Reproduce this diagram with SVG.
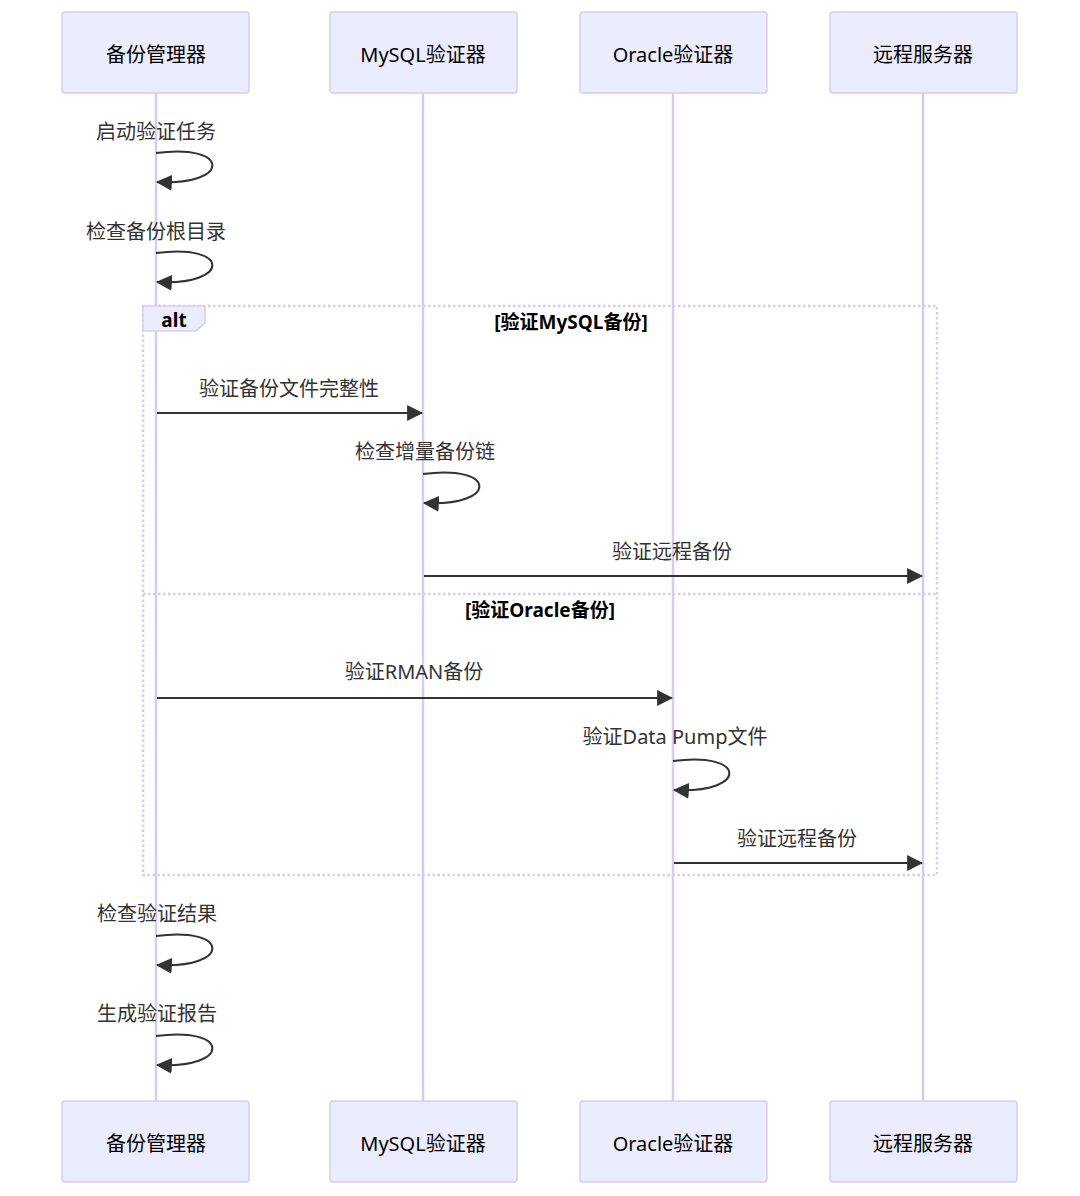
<svg xmlns="http://www.w3.org/2000/svg" width="1080" height="1196" viewBox="0 0 1080 1196">
<defs>
<style>
.actor{fill:#ECECFF;stroke:#D6CCF2;stroke-width:1.5}
.life{stroke:#D6CCF2;stroke-width:2.5;fill:none}
.atext{font-family:"Noto Sans","Noto Sans CJK SC",sans-serif;font-size:20px;fill:#000;text-anchor:middle;dominant-baseline:central}
.mtext{font-family:"Noto Sans","Noto Sans CJK SC",sans-serif;font-size:20px;fill:#333;text-anchor:middle;dominant-baseline:central}
.msg{stroke:#333;stroke-width:2;fill:none;marker-end:url(#arrow)}
.loopbox{stroke:#D6CCF2;stroke-width:2.5;stroke-dasharray:2.5,2.5;fill:none}
.labelbox{fill:#ECECFF;stroke:#D6CCF2;stroke-width:1.5}
.ltext{font-family:"Noto Sans","Noto Sans CJK SC",sans-serif;font-size:19px;font-weight:bold;fill:#000;text-anchor:middle;dominant-baseline:central}
</style>
<marker id="arrow" markerUnits="userSpaceOnUse" markerWidth="16" markerHeight="16" viewBox="0 0 14 14" refX="13" refY="7" orient="auto">
<path d="M0,0 L14,7 L0,14 z" fill="#333"/>
</marker>
</defs>
<rect width="1080" height="1196" fill="#fff"/>
<g id="lifelines">
<line class="life" x1="156" y1="93" x2="156" y2="1101"/>
<line class="life" x1="423" y1="93" x2="423" y2="1101"/>
<line class="life" x1="673" y1="93" x2="673" y2="1101"/>
<line class="life" x1="923" y1="93" x2="923" y2="1101"/>
</g>
<g id="actor-manager-top"><rect class="actor" x="62" y="12" width="187" height="81" rx="3"/><text class="atext" x="156" y="54">备份管理器</text></g>
<g id="actor-mysql-top"><rect class="actor" x="330" y="12" width="187" height="81" rx="3"/><text class="atext" x="423" y="54">MySQL验证器</text></g>
<g id="actor-oracle-top"><rect class="actor" x="580" y="12" width="187" height="81" rx="3"/><text class="atext" x="673" y="54">Oracle验证器</text></g>
<g id="actor-remote-top"><rect class="actor" x="830" y="12" width="187" height="81" rx="3"/><text class="atext" x="923" y="54">远程服务器</text></g>
<g id="actor-manager-bottom"><rect class="actor" x="62" y="1101" width="187" height="81" rx="3"/><text class="atext" x="156" y="1143">备份管理器</text></g>
<g id="actor-mysql-bottom"><rect class="actor" x="330" y="1101" width="187" height="81" rx="3"/><text class="atext" x="423" y="1143">MySQL验证器</text></g>
<g id="actor-oracle-bottom"><rect class="actor" x="580" y="1101" width="187" height="81" rx="3"/><text class="atext" x="673" y="1143">Oracle验证器</text></g>
<g id="actor-remote-bottom"><rect class="actor" x="830" y="1101" width="187" height="81" rx="3"/><text class="atext" x="923" y="1143">远程服务器</text></g>
<g id="alt-block">
<rect class="loopbox" x="143" y="306" width="794" height="569"/>
<line class="loopbox" x1="143" y1="594" x2="937" y2="594"/>
<polygon class="labelbox" points="143,306 205,306 205,323 196,331 143,331"/>
<text class="ltext" x="174" y="320">alt</text>
<text class="ltext" x="571" y="322">[验证MySQL备份]</text>
<text class="ltext" x="540" y="610">[验证Oracle备份]</text>
</g>
<g id="connectors">
<path class="msg" d="M156,153 C231,143 231,186 157,182"/>
<path class="msg" d="M156,253 C231,243 231,286 157,282"/>
<line class="msg" x1="157" y1="413" x2="422" y2="413"/>
<path class="msg" d="M423,474 C498,464 498,507 424,503"/>
<line class="msg" x1="424" y1="576" x2="922" y2="576"/>
<line class="msg" x1="157" y1="698" x2="672" y2="698"/>
<path class="msg" d="M673,761 C748,751 748,794 674,790"/>
<line class="msg" x1="674" y1="863" x2="922" y2="863"/>
<path class="msg" d="M156,936 C231,926 231,969 157,965"/>
<path class="msg" d="M156,1036 C231,1026 231,1069 157,1065"/>
</g>
<g id="labels">
<text class="mtext" x="156" y="131">启动验证任务</text>
<text class="mtext" x="156" y="231">检查备份根目录</text>
<text class="mtext" x="289" y="388">验证备份文件完整性</text>
<text class="mtext" x="425" y="451">检查增量备份链</text>
<text class="mtext" x="672" y="551">验证远程备份</text>
<text class="mtext" x="414" y="671">验证RMAN备份</text>
<text class="mtext" x="675" y="736">验证Data Pump文件</text>
<text class="mtext" x="797" y="838">验证远程备份</text>
<text class="mtext" x="157" y="913">检查验证结果</text>
<text class="mtext" x="157" y="1013">生成验证报告</text>
</g>
</svg>
